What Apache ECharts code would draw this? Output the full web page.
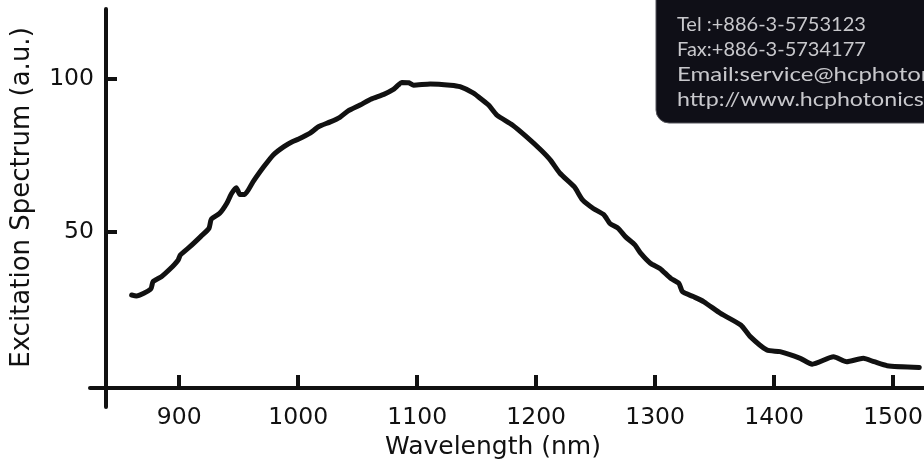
<!DOCTYPE html>
<html>
<head>
<meta charset="utf-8">
<style>
  html, body { margin: 0; padding: 0; background: #ffffff; }
  #chart { width: 924px; height: 459px; }
</style>
<script src="https://cdn.jsdelivr.net/npm/echarts@6/dist/echarts.min.js"></script>
</head>
<body>
<div id="chart"></div>
<script>
// Wavelength (nm)
const xValues = [860, 864, 876, 878, 885, 892, 899, 901, 909, 918, 925, 927, 934, 940, 944, 948, 951, 955, 962, 971,
  979, 988, 995, 1000, 1010, 1017, 1027, 1035, 1042, 1052, 1061, 1072, 1080, 1084, 1087, 1093, 1097, 1111, 1128, 1136,
  1147, 1153, 1160, 1167, 1180, 1192, 1204, 1212, 1220, 1232, 1239, 1248, 1257, 1262, 1269, 1275, 1283, 1288, 1296, 1304,
  1313, 1320, 1323, 1332, 1341, 1355, 1372, 1380, 1394, 1405, 1422, 1432, 1450, 1461, 1475, 1484, 1495, 1522];
// Excitation spectrum (a.u.)
const yValues = [29.4, 29.1, 31.3, 33.8, 35.4, 37.8, 40.8, 42.5, 45.2, 48.5, 51.2, 54.2, 56.1, 59.4, 62.6, 64.5, 62.3, 62.3, 66.4, 71.3,
  75.2, 77.9, 79.5, 80.3, 82.3, 84.4, 86.0, 87.5, 89.6, 91.5, 93.4, 95.0, 96.6, 98.0, 98.9, 98.8, 98.0, 98.4, 98.0, 97.5,
  95.5, 93.7, 91.5, 88.2, 85.0, 81.1, 76.8, 73.5, 69.2, 64.8, 60.5, 57.7, 55.6, 52.8, 51.2, 48.5, 45.8, 43.0, 39.8, 38.1,
  34.9, 33.2, 30.5, 28.9, 27.2, 23.4, 19.6, 15.8, 11.4, 10.9, 8.7, 6.8, 9.2, 7.6, 8.7, 7.6, 6.3, 5.7];
const xTicks = [900, 1000, 1100, 1200, 1300, 1400, 1500];
const yTicks = [50, 100];
const xName = 'Wavelength (nm)';
const yName = 'Excitation Spectrum (a.u.)';
const contactLines = [
  'Tel :+886-3-5753123',
  'Fax:+886-3-5734177',
  'Email:service@hcphotonics.com',
  'http://www.hcphotonics.com'
];
const contactStretch = [1.0, 1.0, 1.2, 1.16];

const n = Math.min(xValues.length, yValues.length);
const seriesData = [];
for (let i = 0; i < n; i++) seriesData.push([xValues[i], yValues[i]]);

const font = 'DejaVu Sans';
const chart = echarts.init(document.getElementById('chart'), null, { renderer: 'canvas' });

const graphics = [{
  type: 'rect',
  shape: { x: 656, y: -20, width: 290, height: 143, r: [0, 0, 0, 13] },
  style: { fill: '#0f0f17', stroke: '#55555c', lineWidth: 1 },
  z: 100
}];
contactLines.forEach(function (t, i) {
  graphics.push({
    type: 'text',
    x: 677,
    y: 25 + i * 25,
    scaleX: contactStretch[i],
    style: {
      text: t,
      fill: '#c8c8cc',
      font: '20px Lato',
      verticalAlign: 'middle',
      align: 'left'
    },
    z: 101
  });
});

const plain = function (v) { return String(v); };

chart.setOption({
  backgroundColor: '#ffffff',
  animation: false,
  grid: { left: 90, right: 0, top: 9, bottom: 52, containLabel: false, outerBoundsMode: 'none' },
  xAxis: {
    type: 'value',
    min: 825,
    max: 1526,
    offset: -19,
    name: xName,
    nameLocation: 'middle',
    nameGap: 41,
    nameTextStyle: { fontFamily: font, fontSize: 25, color: '#111', padding: [0, 28, 0, 0] },
    axisLine: { show: true, onZero: false, lineStyle: { color: '#111', width: 4 } },
    axisTick: { show: true, inside: true, length: 13, customValues: xTicks, lineStyle: { color: '#111', width: 4 } },
    axisLabel: { show: true, customValues: xTicks, formatter: plain, margin: 18, fontFamily: font, fontSize: 23.5, color: '#111' },
    splitLine: { show: false }
  },
  yAxis: {
    type: 'value',
    min: -7.2,
    max: 122.9,
    offset: -16,
    name: yName,
    nameLocation: 'middle',
    nameGap: 71,
    nameTextStyle: { fontFamily: font, fontSize: 26, color: '#111', padding: [0, 0, 0, 21] },
    axisLine: { show: true, onZero: false, lineStyle: { color: '#111', width: 4 } },
    axisTick: { show: true, inside: true, length: 11, customValues: yTicks, lineStyle: { color: '#111', width: 4 } },
    axisLabel: { show: true, customValues: yTicks, formatter: plain, margin: 12, fontFamily: font, fontSize: 23.5, color: '#111' },
    splitLine: { show: false }
  },
  series: [{
    type: 'line',
    data: seriesData,
    showSymbol: false,
    smooth: 0.2,
    lineStyle: { color: '#111', width: 5, cap: 'round', join: 'round' },
    z: 3
  }],
  graphic: graphics
});
</script>
</body>
</html>
